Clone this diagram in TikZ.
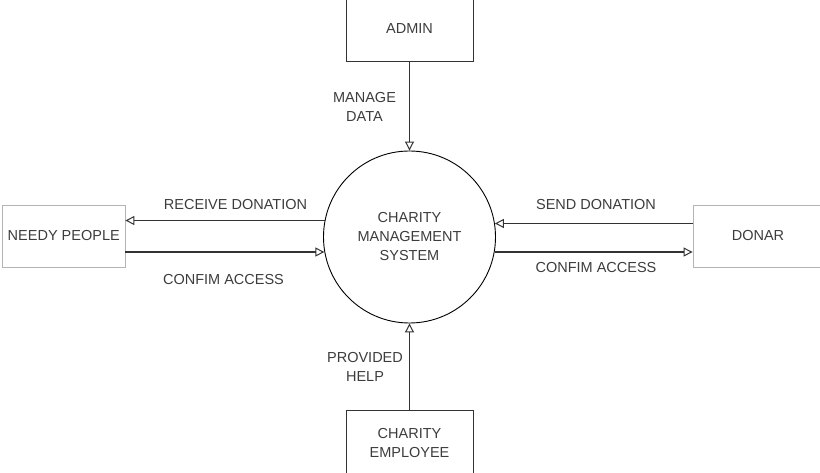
\documentclass[tikz,border=0pt]{standalone}
\usepackage{fontspec}
\setmainfont{Liberation Sans}
\usetikzlibrary{arrows.meta}
\definecolor{txt}{HTML}{3C3C3C}
\definecolor{darkline}{HTML}{333333}
\definecolor{lightline}{HTML}{B4B4B4}
\begin{document}
\begin{tikzpicture}[x=1pt,y=-1pt,
  every node/.style={font=\fontsize{14.5}{19}\selectfont, text=txt, align=center, inner sep=0pt},
  darkbox/.style={draw=darkline, line width=1pt, rectangle},
  lightbox/.style={draw=lightline, line width=0.8pt, rectangle},
  flow/.style={draw=darkline, line width=1.3pt, -{Triangle[open, length=9pt, width=9pt, line width=1pt]}},
  lbl/.style={}
]
\useasboundingbox (0,0) rectangle (820,473);
\clip (0,0) rectangle (820,473);
% entities
\node[darkbox, minimum width=127pt, minimum height=66pt] (admin) at (409.5,29) {ADMIN};
\node[darkbox, minimum width=127pt, minimum height=66pt] (employee) at (409.5,443) {CHARITY\\EMPLOYEE};
\node[lightbox, minimum width=122.5pt, minimum height=62pt] (needy) at (63.75,236) {NEEDY PEOPLE};
\node[lightbox, minimum width=130pt, minimum height=62pt] (donar) at (758,236) {DONAR};
% process
\node[draw=black, line width=0.9pt, circle, minimum size=172pt] (sys) at (409.5,237) {CHARITY\\MANAGEMENT\\SYSTEM};
% flows
\draw[flow] (admin.south) -- (sys.north);
\draw[flow] (employee.north) -- (sys.south);
\draw[flow] (sys.169.3) -- (needy.east |- sys.169.3);
\draw[flow] (needy.east |- sys.190.7) -- (sys.190.7);
\draw[flow] (donar.west |- sys.9.4) -- (sys.9.4);
\draw[flow] (sys.-10.5) -- (donar.west |- sys.-10.5);
% labels
\node[lbl] (lmanage) at (364.5,106.5) {MANAGE\\DATA};
\node[lbl] (lprovided) at (365,367) {PROVIDED\\HELP};
\node[lbl] (lreceive) at (235.5,205) {RECEIVE DONATION};
\node[lbl] (lconfl) at (223.5,279.5) {CONFIM ACCESS};
\node[lbl] (lsend) at (596,205) {SEND DONATION};
\node[lbl] (lconfr) at (596,267.5) {CONFIM ACCESS};
\end{tikzpicture}
\end{document}
